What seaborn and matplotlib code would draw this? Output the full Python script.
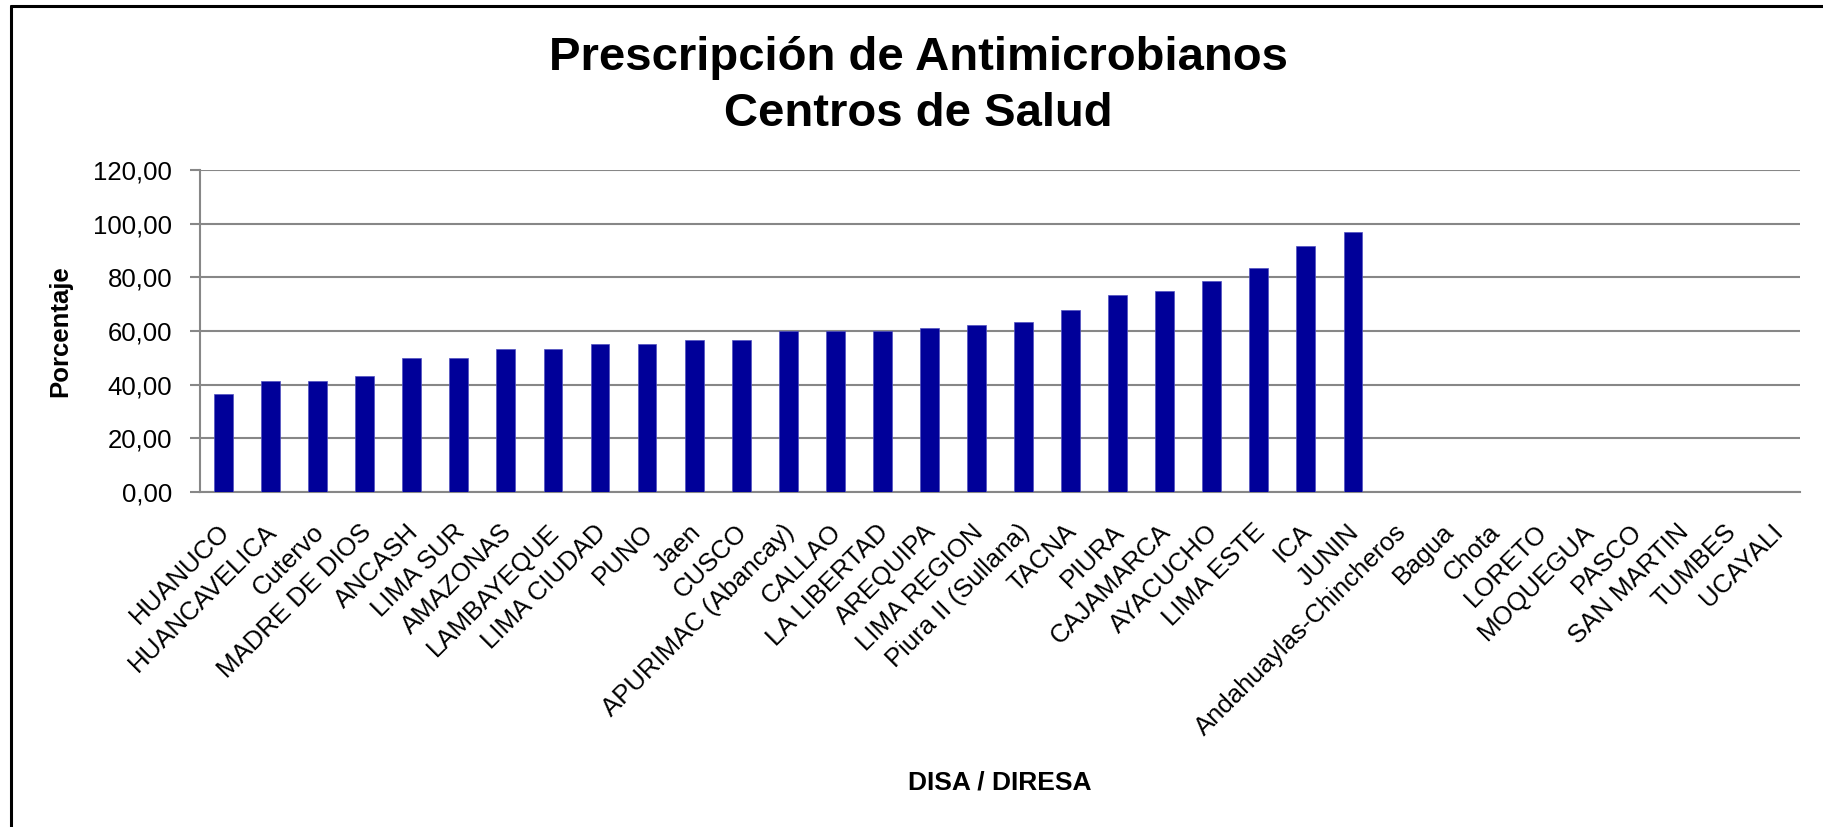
import matplotlib
matplotlib.use("Agg")
import matplotlib.pyplot as plt
from matplotlib.lines import Line2D
from matplotlib.transforms import ScaledTranslation
import numpy as np
import pandas as pd
import seaborn as sns

sns.set_theme(style="white")
plt.rcParams['font.family'] = ['Liberation Sans', 'DejaVu Sans']
plt.rcParams['text.color'] = 'black'
plt.rcParams['axes.labelcolor'] = 'black'
plt.rcParams['xtick.color'] = 'black'
plt.rcParams['ytick.color'] = 'black'

# datos
disas = ['HUANUCO', 'HUANCAVELICA', 'Cutervo', 'MADRE DE DIOS', 'ANCASH', 'LIMA SUR',
         'AMAZONAS', 'LAMBAYEQUE', 'LIMA CIUDAD', 'PUNO', 'Jaen', 'CUSCO',
         'APURIMAC (Abancay)', 'CALLAO', 'LA LIBERTAD', 'AREQUIPA', 'LIMA REGION',
         'Piura II (Sullana)', 'TACNA', 'PIURA', 'CAJAMARCA', 'AYACUCHO', 'LIMA ESTE',
         'ICA', 'JUNIN', 'Andahuaylas-Chincheros', 'Bagua', 'Chota', 'LORETO',
         'MOQUEGUA', 'PASCO', 'SAN MARTIN', 'TUMBES', 'UCAYALI']
porcentaje = [36.6, 41.4, 41.5, 43.2, 50.0, 50.0, 53.2, 53.2, 55.0, 55.0, 56.6, 56.6,
              60.0, 60.0, 60.0, 61.0, 62.1, 63.3, 67.9, 73.3, 74.9, 78.5, 83.3, 91.7, 96.8,
              np.nan, np.nan, np.nan, np.nan, np.nan, np.nan, np.nan, np.nan, np.nan]
yticks = [0, 20, 40, 60, 80, 100, 120]

df = pd.DataFrame({'disa': disas, 'pct': porcentaje})

W, H = 1823, 827
fig = plt.figure(figsize=(W / 100, H / 100), dpi=100)
ax = fig.add_axes([200 / W, 1 - 492 / H, 1600 / W, 322 / H])

gris = '#878787'
sns.barplot(data=df, x='disa', y='pct', order=disas, color='#000099', saturation=1,
            width=0.4, errorbar=None, edgecolor='#5050c0', linewidth=0.5, ax=ax, zorder=3)

n = len(disas)
ax.set_xlim(-0.5, n - 0.5)
ax.set_ylim(0, 120)
ax.set_yticks(yticks)
ax.set_yticklabels([f"{v:.2f}".replace('.', ',') for v in yticks], fontsize=18.5)
ax.yaxis.grid(True, color=gris, linewidth=1.5, zorder=0)
ax.set_axisbelow(True)

ax.set_xticks(np.arange(n))
ax.set_xticklabels(disas, rotation=45, ha='right', fontsize=18.5)
ax.set_xticks(np.arange(n + 1) - 0.5, minor=True)
ax.tick_params(axis='x', which='major', length=0, pad=20)
ax.tick_params(axis='x', which='minor', length=7, width=1.5, color=gris, direction='out')
ax.tick_params(axis='y', length=7, width=1.5, color=gris, direction='out', pad=13, left=True)
off = ScaledTranslation(11 / 100, 0, fig.dpi_scale_trans)
for lbl in ax.get_xticklabels():
    lbl.set_transform(lbl.get_transform() + off)

for s in ['top', 'right']:
    ax.spines[s].set_visible(False)
for s in ['left', 'bottom']:
    ax.spines[s].set_color(gris)
    ax.spines[s].set_linewidth(1.5)

ax.set_xlabel('DISA / DIRESA', fontsize=19, fontweight='bold', va='center')
ax.xaxis.set_label_coords(0.5, (492 - 783) / 322)
ax.set_ylabel('Porcentaje', fontsize=18.5, fontweight='bold', va='center')
ax.yaxis.set_label_coords((60 - 200) / 1600, 0.5)

fig.text(918 / W, 1 - 70 / H, 'Prescripción de Antimicrobianos', ha='center', va='baseline',
         fontsize=34, fontweight='bold')
fig.text(918 / W, 1 - 126.5 / H, 'Centros de Salud', ha='center', va='baseline',
         fontsize=34, fontweight='bold')

# marco del grafico (solo se ve arriba y a la izquierda)
fig.add_artist(Line2D([11 / W, 11 / W], [0, 1 - 6 / H], color='black', linewidth=2.2))
fig.add_artist(Line2D([11 / W, 1], [1 - 6 / H, 1 - 6 / H], color='black', linewidth=2.2))

fig.savefig('out.png', dpi=100)
